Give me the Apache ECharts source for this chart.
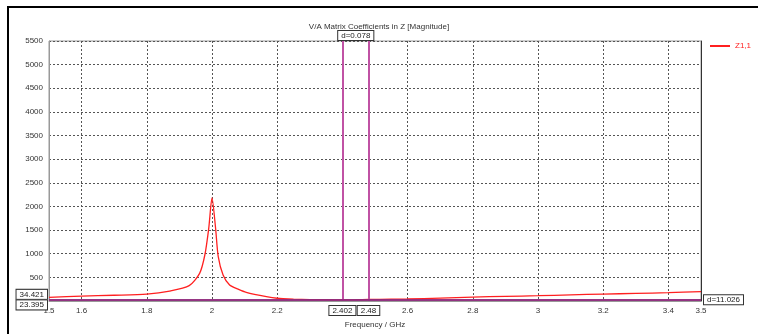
<!DOCTYPE html>
<html>
<head>
<meta charset="utf-8">
<script src="https://cdn.jsdelivr.net/npm/echarts@6/dist/echarts.min.js"></script>
<style>
  html, body { margin: 0; padding: 0; background: #fff; }
  #wrap { position: relative; width: 758px; height: 334px; }
  #chart { width: 758px; height: 334px; }
  /* black frame seen on the top / left edges of the screenshot */
  #frame { position: absolute; left: 7px; top: 6px; right: 0; bottom: 0;
           border-top: 2px solid #000; border-left: 2px solid #000; pointer-events: none; }
</style>
</head>
<body>
<div id="wrap"><div id="chart"></div><div id="frame"></div></div>
<script>
// Z1,1 magnitude vs frequency (GHz)
const freq = [1.5, 1.6, 1.7, 1.8, 1.87, 1.93, 1.962, 1.978, 1.99, 2.0, 2.011, 2.019, 2.034, 2.054, 2.08,
  2.105, 2.167, 2.2, 2.25, 2.3, 2.35, 2.402, 2.48, 2.55, 2.6, 2.7, 2.8, 2.9, 3.0, 3.1, 3.2, 3.3, 3.4, 3.5];
const z11 = [78, 104, 122, 146, 210, 324, 585, 973, 1538, 2180, 1538, 945, 549, 337, 250,
  182, 91, 58, 40, 30, 26, 23.395, 34.421, 38, 42, 62, 83, 98, 112, 130, 146, 160, 176, 200];

const xTicks = [1.5, 1.6, 1.8, 2.0, 2.2, 2.4, 2.6, 2.8, 3.0, 3.2, 3.4, 3.5];
const xLabels = [1.5, 1.6, 1.8, 2.0, 2.2, 2.6, 2.8, 3.0, 3.2, 3.4, 3.5]; // 2.4 hidden under marker boxes

// markers
const markX = [2.402, 2.48];
const markY = [34.421, 23.395];
const deltaX = '0.078';
const deltaY = '11.026';

const C_LINE = '#ff2020';
const C_MARK_V = '#c052a4';
const C_MARK_H = '#8f2a7c';
const FONT = 'Liberation Sans';
const FS = 8;

const boxLabel = {
  show: true, fontFamily: FONT, fontSize: FS, color: '#222',
  backgroundColor: '#fff', borderColor: '#333', borderWidth: 1, padding: [1, 3, 0, 3],
};

const chart = echarts.init(document.getElementById('chart'), null, { renderer: 'canvas' });
chart.setOption({
  animation: false,
  textStyle: { fontFamily: FONT },
  title: {
    text: 'V/A Matrix Coefficients in Z [Magnitude]',
    left: 'center', top: 18,
    textStyle: { fontSize: FS, fontWeight: 'normal', color: '#333', fontFamily: FONT },
  },
  legend: {
    left: 710, top: 42, orient: 'vertical', padding: 0,
    itemWidth: 20, itemHeight: 2, itemGap: 4,
    textStyle: { fontSize: FS, color: C_LINE, fontFamily: FONT },
    data: [{ name: 'Z1,1', icon: 'rect' }],
  },
  grid: { left: 49, right: 57, top: 41, bottom: 31, show: true, borderColor: '#999', borderWidth: 1 },
  xAxis: {
    type: 'value', min: 1.5, max: 3.5,
    name: 'Frequency / GHz', nameLocation: 'middle', nameGap: 20,
    nameTextStyle: { fontSize: FS, color: '#333', fontFamily: FONT },
    axisLine: { lineStyle: { color: '#999' } },
    axisTick: { show: false, customValues: xTicks },
    axisLabel: {
      customValues: xLabels, fontSize: FS, color: '#333', margin: 6,
      formatter: v => String(Math.round(v * 10) / 10),
    },
    splitLine: { show: true, lineStyle: { color: '#555', type: [2, 2], width: 1 } },
  },
  yAxis: [
    {
      type: 'value', min: 0, max: 5500, interval: 500,
      axisLine: { show: true, lineStyle: { color: '#999' } },
      axisTick: { show: false },
      axisLabel: { fontSize: FS, color: '#333', margin: 6, formatter: v => (v === 0 ? '' : String(v)) },
      splitLine: { show: true, lineStyle: { color: '#555', type: [2, 2], width: 1 } },
    },
    {
      type: 'value', min: 0, max: 5500, position: 'right',
      axisLine: { show: true, lineStyle: { color: '#333' } },
      axisTick: { show: false }, axisLabel: { show: false }, splitLine: { show: false },
    },
  ],
  series: [
    {
      name: 'Z1,1', type: 'line', symbol: 'none', smooth: 0.25,
      data: freq.map((f, i) => [f, z11[i]]),
      lineStyle: { color: C_LINE, width: 1.3 },
      itemStyle: { color: C_LINE },
      markLine: {
        silent: true, symbol: 'none', animation: false,
        data: [
          { xAxis: markX[0], lineStyle: { color: C_MARK_V, width: 2, type: 'solid' },
            label: { ...boxLabel, position: 'start', distance: 5, formatter: String(markX[0]) } },
          { xAxis: markX[1], lineStyle: { color: C_MARK_V, width: 2, type: 'solid' },
            label: { ...boxLabel, position: 'start', distance: 5, formatter: String(markX[1]) } },
          { yAxis: markY[0], lineStyle: { color: C_MARK_H, width: 1.5, type: 'solid' },
            label: { ...boxLabel, position: 'start', distance: 2, offset: [0, -5], formatter: String(markY[0]) } },
          { yAxis: markY[1], lineStyle: { color: C_MARK_H, width: 1.5, type: 'solid' },
            label: { ...boxLabel, position: 'start', distance: 2, offset: [0, 5], formatter: String(markY[1]) } },
        ],
      },
      markArea: {
        silent: true,
        itemStyle: { color: 'rgba(0,0,0,0)' },
        data: [
          [{ xAxis: markX[0], label: { ...boxLabel, position: 'top', distance: 1, formatter: 'd=' + deltaX } },
           { xAxis: markX[1] }],
          [{ yAxis: markY[1], label: { ...boxLabel, position: 'right', distance: 3, formatter: 'd=' + deltaY } },
           { yAxis: markY[0] }],
        ],
      },
    },
  ],
});
</script>
</body>
</html>
